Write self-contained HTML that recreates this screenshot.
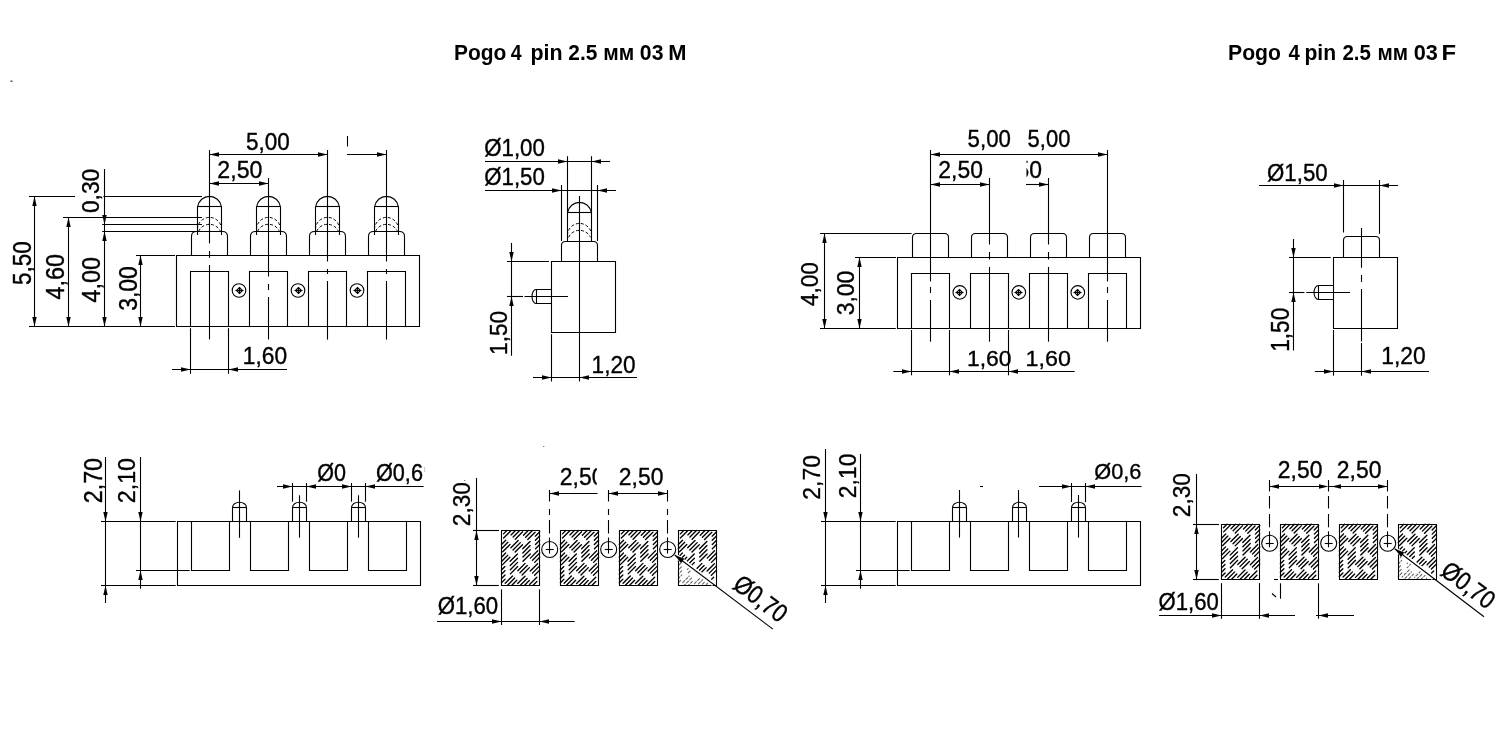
<!DOCTYPE html>
<html><head><meta charset="utf-8"><style>
html,body{margin:0;padding:0;background:#fff;width:1500px;height:750px;overflow:hidden}
svg{display:block}
line,path,circle{fill:none;stroke:#000;stroke-width:1.1;stroke-linecap:butt}
path.a{fill:#000;stroke:none}
path.d{stroke-dasharray:3 2;stroke-width:1;stroke:#000}
path.h{stroke-width:1.35;stroke-linecap:round}
text{font-family:"Liberation Sans",sans-serif;fill:#000;stroke:#000;stroke-width:0}
text.t{font-size:100px}
text.b{font-size:100px;font-weight:bold}
</style></head><body>
<svg width="1500" height="750" viewBox="0 0 1500 750">
<rect width="1500" height="750" fill="#fff" stroke="none"/>
<g style="will-change:transform">
<text class="b" transform="translate(453.9 59.6) scale(0.20969 0.22384)">Pogo</text>
<text class="b" transform="translate(510.71 59.6) scale(0.19590 0.22384)">4</text>
<text class="b" transform="translate(530.49 59.6) scale(0.21429 0.22384)">pin</text>
<text class="b" transform="translate(568.37 59.6) scale(0.20874 0.22384)">2.5</text>
<text class="b" transform="translate(603.13 59.6) scale(0.20970 0.22384)">мм</text>
<text class="b" transform="translate(639.85 59.6) scale(0.21236 0.22384)">03</text>
<text class="b" transform="translate(668.13 59.6) scale(0.21888 0.22384)">M</text>
<text class="b" transform="translate(1227.98 59.6) scale(0.21220 0.22384)">Pogo</text>
<text class="b" transform="translate(1288.59 59.6) scale(0.20336 0.22384)">4</text>
<text class="b" transform="translate(1304.4 59.6) scale(0.21137 0.22384)">pin</text>
<text class="b" transform="translate(1342.38 59.6) scale(0.20497 0.22384)">2.5</text>
<text class="b" transform="translate(1377.55 59.6) scale(0.20672 0.22384)">мм</text>
<text class="b" transform="translate(1413.63 59.6) scale(0.21718 0.22384)">03</text>
<text class="b" transform="translate(1441.5 59.6) scale(0.23866 0.22384)">F</text>
<rect x="10.5" y="80.5" width="2" height="1.5" fill="#555" stroke="none"/>
<path d="M197.65 206.5A12 12 0 0 1 221.35 206.5"/>
<line x1="197.5" y1="206.5" x2="221.5" y2="206.5"/>
<line x1="197.5" y1="206.3" x2="197.5" y2="235"/>
<line x1="221.5" y1="206.3" x2="221.5" y2="235"/>
<path d="M197.5 229.4A12 12 0 0 1 221.5 229.4" class="d"/>
<path d="M198.6 231.3A12 12 0 0 1 220.4 231.3" class="d"/>
<path d="M191.5 255.5L191.5 236.5Q191.5 231.5 196.5 231.5L222.5 231.5Q227.5 231.5 227.5 236.5L227.5 255.5"/>
<path d="M256.65 206.5A12 12 0 0 1 280.35 206.5"/>
<line x1="256.5" y1="206.5" x2="280.5" y2="206.5"/>
<line x1="256.5" y1="206.3" x2="256.5" y2="235"/>
<line x1="280.5" y1="206.3" x2="280.5" y2="235"/>
<path d="M256.5 229.4A12 12 0 0 1 280.5 229.4" class="d"/>
<path d="M257.6 231.3A12 12 0 0 1 279.4 231.3" class="d"/>
<path d="M250.5 255.5L250.5 236.5Q250.5 231.5 255.5 231.5L281.5 231.5Q286.5 231.5 286.5 236.5L286.5 255.5"/>
<path d="M315.65 206.5A12 12 0 0 1 339.35 206.5"/>
<line x1="315.5" y1="206.5" x2="339.5" y2="206.5"/>
<line x1="315.5" y1="206.3" x2="315.5" y2="235"/>
<line x1="339.5" y1="206.3" x2="339.5" y2="235"/>
<path d="M315.5 229.4A12 12 0 0 1 339.5 229.4" class="d"/>
<path d="M316.6 231.3A12 12 0 0 1 338.4 231.3" class="d"/>
<path d="M309.5 255.5L309.5 236.5Q309.5 231.5 314.5 231.5L340.5 231.5Q345.5 231.5 345.5 236.5L345.5 255.5"/>
<path d="M374.65 206.5A12 12 0 0 1 398.35 206.5"/>
<line x1="374.5" y1="206.5" x2="398.5" y2="206.5"/>
<line x1="374.5" y1="206.3" x2="374.5" y2="235"/>
<line x1="398.5" y1="206.3" x2="398.5" y2="235"/>
<path d="M374.5 229.4A12 12 0 0 1 398.5 229.4" class="d"/>
<path d="M375.6 231.3A12 12 0 0 1 397.4 231.3" class="d"/>
<path d="M368.5 255.5L368.5 236.5Q368.5 231.5 373.5 231.5L399.5 231.5Q404.5 231.5 404.5 236.5L404.5 255.5"/>
<path d="M176.5 255.5H419.5V326.5H176.5Z"/>
<path d="M190.5 326.5V271.5H228.5V326.5"/>
<path d="M249.5 326.5V271.5H287.5V326.5"/>
<path d="M308.5 326.5V271.5H346.5V326.5"/>
<path d="M367.5 326.5V271.5H405.5V326.5"/>
<circle cx="239" cy="290.5" r="6.8"/>
<line x1="235.5" y1="290.5" x2="243.5" y2="290.5" stroke-width="0.9"/>
<line x1="239.5" y1="287.1" x2="239.5" y2="293.9" stroke-width="0.9"/>
<path d="M236.5 290.5L239.5 287.5L242.5 290.5L239.5 293.5Z" stroke-width="0.6"/>
<circle cx="298" cy="290.5" r="6.8"/>
<line x1="294.5" y1="290.5" x2="302.5" y2="290.5" stroke-width="0.9"/>
<line x1="298.5" y1="287.1" x2="298.5" y2="293.9" stroke-width="0.9"/>
<path d="M295.5 290.5L298.5 287.5L301.5 290.5L298.5 293.5Z" stroke-width="0.6"/>
<circle cx="357" cy="290.5" r="6.8"/>
<line x1="353.5" y1="290.5" x2="361.5" y2="290.5" stroke-width="0.9"/>
<line x1="357.5" y1="287.1" x2="357.5" y2="293.9" stroke-width="0.9"/>
<path d="M354.5 290.5L357.5 287.5L360.5 290.5L357.5 293.5Z" stroke-width="0.6"/>
<line x1="209.5" y1="150" x2="209.5" y2="243.5"/>
<line x1="209.5" y1="251" x2="209.5" y2="257.8"/>
<line x1="209.5" y1="265" x2="209.5" y2="339.5"/>
<line x1="268.5" y1="178" x2="268.5" y2="276.5"/>
<line x1="268.5" y1="284" x2="268.5" y2="290"/>
<line x1="268.5" y1="297" x2="268.5" y2="339.5"/>
<line x1="327.5" y1="150" x2="327.5" y2="261.5"/>
<line x1="327.5" y1="269" x2="327.5" y2="274"/>
<line x1="327.5" y1="281" x2="327.5" y2="339.6"/>
<line x1="386.5" y1="150" x2="386.5" y2="261.5"/>
<line x1="386.5" y1="269" x2="386.5" y2="274"/>
<line x1="386.5" y1="281" x2="386.5" y2="339.6"/>
<line x1="209.5" y1="154.5" x2="327.5" y2="154.5"/>
<path class="a" d="M209.5 154.5L219 152.3L219 156.7Z"/>
<path class="a" d="M327.5 154.5L318 156.7L318 152.3Z"/>
<line x1="347" y1="154.5" x2="386.5" y2="154.5"/>
<path class="a" d="M386.5 154.5L377 156.7L377 152.3Z"/>
<line x1="347.5" y1="136" x2="347.5" y2="146.5" stroke-width="0.9"/>
<text class="t" style="stroke-width:1.556px" transform="translate(246.1 150) scale(0.22496 0.24355)">5,00</text>
<line x1="209.5" y1="183.5" x2="268.5" y2="183.5"/>
<path class="a" d="M209.5 183.5L219 181.3L219 185.7Z"/>
<path class="a" d="M268.5 183.5L259 185.7L259 181.3Z"/>
<text class="t" style="stroke-width:1.512px" transform="translate(217.34 177.8) scale(0.23156 0.24069)">2,50</text>
<line x1="29" y1="196.5" x2="75" y2="196.5"/>
<line x1="103.4" y1="196.5" x2="202" y2="196.5"/>
<line x1="63" y1="217.5" x2="202" y2="217.5"/>
<line x1="102.2" y1="224.5" x2="202" y2="224.5"/>
<line x1="102.2" y1="231.5" x2="197" y2="231.5"/>
<line x1="136" y1="255.5" x2="175" y2="255.5"/>
<line x1="29" y1="326.5" x2="175" y2="326.5"/>
<line x1="34.5" y1="196.2" x2="34.5" y2="326.5"/>
<path class="a" d="M34.5 196.5L36.7 206L32.3 206Z"/>
<path class="a" d="M34.5 326.5L32.3 317L36.7 317Z"/>
<line x1="68.5" y1="217.5" x2="68.5" y2="326.5"/>
<path class="a" d="M68.5 217.5L70.7 227L66.3 227Z"/>
<path class="a" d="M68.5 326.5L66.3 317L70.7 317Z"/>
<line x1="104.5" y1="169" x2="104.5" y2="326.5"/>
<path class="a" d="M104.5 224.5L102.3 215L106.7 215Z"/>
<path class="a" d="M104.5 231.5L106.7 241L102.3 241Z"/>
<path class="a" d="M104.5 326.5L102.3 317L106.7 317Z"/>
<line x1="140.5" y1="255.5" x2="140.5" y2="326.5"/>
<path class="a" d="M140.5 255.5L142.7 265L138.3 265Z"/>
<path class="a" d="M140.5 326.5L138.3 317L142.7 317Z"/>
<text class="t" style="stroke-width:1.556px" transform="translate(31 284.9) rotate(-90) scale(0.22496 0.25788)">5,50</text>
<text class="t" style="stroke-width:1.499px" transform="translate(64 299.54) rotate(-90) scale(0.23355 0.25788)">4,60</text>
<text class="t" style="stroke-width:1.499px" transform="translate(100 302.54) rotate(-90) scale(0.23355 0.25788)">4,00</text>
<text class="t" style="stroke-width:1.521px" transform="translate(137 310.87) rotate(-90) scale(0.23007 0.25788)">3,00</text>
<text class="t" style="stroke-width:1.535px" transform="translate(99.2 213.09) rotate(-90) scale(0.22805 0.24069)">0,30</text>
<line x1="190.5" y1="328.2" x2="190.5" y2="373.8"/>
<line x1="228.5" y1="328.2" x2="228.5" y2="373.8"/>
<line x1="172" y1="369.5" x2="287" y2="369.5"/>
<path class="a" d="M190.5 369.5L181 371.7L181 367.3Z"/>
<path class="a" d="M228.5 369.5L238 367.3L238 371.7Z"/>
<text class="t" style="stroke-width:1.537px" transform="translate(242.77 363.8) scale(0.22774 0.24069)">1,60</text>
<line x1="579.5" y1="196" x2="579.5" y2="381.5"/>
<path d="M567.65 212.5A12 12 0 0 1 591.35 212.5"/>
<line x1="567.5" y1="212.5" x2="591.5" y2="212.5"/>
<line x1="567.5" y1="156.2" x2="567.5" y2="241"/>
<line x1="591.5" y1="156.2" x2="591.5" y2="241"/>
<line x1="561.5" y1="185" x2="561.5" y2="241"/>
<line x1="597.5" y1="185" x2="597.5" y2="241"/>
<path d="M567.5 235.4A12 12 0 0 1 591.5 235.4" class="d"/>
<path d="M568.6 237.3A12 12 0 0 1 590.4 237.3" class="d"/>
<path d="M561.5 261.5L561.5 245.5Q561.5 241.5 565.5 241.5L593.5 241.5Q597.5 241.5 597.5 245.5L597.5 261.5"/>
<path d="M551.5 261.5H615.5V332.5H551.5Z"/>
<path d="M551.5 289.5H536A4 7 0 0 0 536 303.5H551.5"/>
<line x1="536.5" y1="289.5" x2="536.5" y2="303.5"/>
<line x1="507" y1="296.5" x2="523" y2="296.5"/>
<line x1="524.5" y1="296.5" x2="568" y2="296.5"/>
<line x1="507" y1="261.5" x2="549" y2="261.5"/>
<line x1="511.5" y1="243" x2="511.5" y2="355.8"/>
<path class="a" d="M511.5 261.5L509.3 252L513.7 252Z"/>
<path class="a" d="M511.5 296.5L513.7 306L509.3 306Z"/>
<text class="t" style="stroke-width:1.548px" transform="translate(507.2 354.92) rotate(-90) scale(0.22611 0.24355)">1,50</text>
<line x1="485" y1="161.5" x2="610" y2="161.5"/>
<path class="a" d="M567.5 161.5L558 163.7L558 159.3Z"/>
<path class="a" d="M591.5 161.5L601 159.3L601 163.7Z"/>
<text class="t" style="stroke-width:1.572px" transform="translate(484.22 156) scale(0.22264 0.24355)">Ø1,00</text>
<line x1="485" y1="190.5" x2="616" y2="190.5"/>
<path class="a" d="M561.5 190.5L552 192.7L552 188.3Z"/>
<path class="a" d="M597.5 190.5L607 188.3L607 192.7Z"/>
<text class="t" style="stroke-width:1.572px" transform="translate(484.22 185) scale(0.22264 0.24355)">Ø1,50</text>
<line x1="551.5" y1="334.2" x2="551.5" y2="381.5"/>
<line x1="533" y1="377.5" x2="637" y2="377.5"/>
<path class="a" d="M551.5 377.5L542 379.7L542 375.3Z"/>
<path class="a" d="M579.5 377.5L589 375.3L589 379.7Z"/>
<text class="t" style="stroke-width:1.548px" transform="translate(591.58 373) scale(0.22611 0.23496)">1,20</text>
<path d="M912.5 257.5L912.5 237.5Q912.5 233.5 916.5 233.5L944.5 233.5Q948.5 233.5 948.5 237.5L948.5 257.5"/>
<path d="M971.5 257.5L971.5 237.5Q971.5 233.5 975.5 233.5L1003.5 233.5Q1007.5 233.5 1007.5 237.5L1007.5 257.5"/>
<path d="M1030.5 257.5L1030.5 237.5Q1030.5 233.5 1034.5 233.5L1062.5 233.5Q1066.5 233.5 1066.5 237.5L1066.5 257.5"/>
<path d="M1089.5 257.5L1089.5 237.5Q1089.5 233.5 1093.5 233.5L1121.5 233.5Q1125.5 233.5 1125.5 237.5L1125.5 257.5"/>
<path d="M897.5 257.5H1140.5V328.5H897.5Z"/>
<path d="M911.5 328.5V273.5H949.5V328.5"/>
<path d="M970.5 328.5V273.5H1008.5V328.5"/>
<path d="M1029.5 328.5V273.5H1067.5V328.5"/>
<path d="M1088.5 328.5V273.5H1126.5V328.5"/>
<circle cx="959.8" cy="292.4" r="6.8"/>
<line x1="955.5" y1="292.5" x2="963.5" y2="292.5" stroke-width="0.9"/>
<line x1="959.5" y1="289.1" x2="959.5" y2="295.9" stroke-width="0.9"/>
<path d="M956.5 292.5L959.5 289.5L962.5 292.5L959.5 295.5Z" stroke-width="0.6"/>
<circle cx="1018.8" cy="292.4" r="6.8"/>
<line x1="1014.5" y1="292.5" x2="1022.5" y2="292.5" stroke-width="0.9"/>
<line x1="1018.5" y1="289.1" x2="1018.5" y2="295.9" stroke-width="0.9"/>
<path d="M1015.5 292.5L1018.5 289.5L1021.5 292.5L1018.5 295.5Z" stroke-width="0.6"/>
<circle cx="1077.8" cy="292.4" r="6.8"/>
<line x1="1073.5" y1="292.5" x2="1081.5" y2="292.5" stroke-width="0.9"/>
<line x1="1077.5" y1="289.1" x2="1077.5" y2="295.9" stroke-width="0.9"/>
<path d="M1074.5 292.5L1077.5 289.5L1080.5 292.5L1077.5 295.5Z" stroke-width="0.6"/>
<line x1="930.5" y1="150" x2="930.5" y2="281.5"/>
<line x1="930.5" y1="287" x2="930.5" y2="293"/>
<line x1="930.5" y1="300" x2="930.5" y2="341.7"/>
<line x1="989.5" y1="178" x2="989.5" y2="244.5"/>
<line x1="989.5" y1="252" x2="989.5" y2="259.5"/>
<line x1="989.5" y1="267" x2="989.5" y2="341.7"/>
<line x1="1048.5" y1="178" x2="1048.5" y2="244.5"/>
<line x1="1048.5" y1="252" x2="1048.5" y2="259.5"/>
<line x1="1048.5" y1="267" x2="1048.5" y2="341.7"/>
<line x1="1107.5" y1="150" x2="1107.5" y2="281.5"/>
<line x1="1107.5" y1="287" x2="1107.5" y2="293"/>
<line x1="1107.5" y1="300" x2="1107.5" y2="341.7"/>
<line x1="930.5" y1="154.5" x2="1107.5" y2="154.5"/>
<path class="a" d="M930.5 154.5L940 152.3L940 156.7Z"/>
<path class="a" d="M1107.5 154.5L1098 156.7L1098 152.3Z"/>
<text class="t" style="stroke-width:1.575px" transform="translate(967.61 147) scale(0.22228 0.24355)">5,00</text>
<text class="t" style="stroke-width:1.594px" transform="translate(1027.62 147) scale(0.21960 0.24355)">5,00</text>
<line x1="930.5" y1="184.5" x2="989.5" y2="184.5"/>
<path class="a" d="M930.5 184.5L940 182.3L940 186.7Z"/>
<path class="a" d="M989.5 184.5L980 186.7L980 182.3Z"/>
<text class="t" style="stroke-width:1.529px" transform="translate(938.36 177.8) scale(0.22886 0.24069)">2,50</text>
<line x1="1026" y1="184.5" x2="1048.5" y2="184.5"/>
<path class="a" d="M1048.5 184.5L1039 186.7L1039 182.3Z"/>
<clipPath id="c1"><rect x="1026.5" y="150" width="30" height="40"/></clipPath>
<g clip-path="url(#c1)">
<text class="t" style="stroke-width:1.529px" transform="translate(997.36 177.8) scale(0.22886 0.24069)">2,50</text>
</g>
<line x1="820" y1="233.5" x2="911.5" y2="233.5"/>
<line x1="855" y1="257.5" x2="896" y2="257.5"/>
<line x1="820" y1="328.5" x2="895.8" y2="328.5"/>
<line x1="824.5" y1="233.3" x2="824.5" y2="328.4"/>
<path class="a" d="M824.5 233.5L826.7 243L822.3 243Z"/>
<path class="a" d="M824.5 328.5L822.3 319L826.7 319Z"/>
<line x1="859.5" y1="257.5" x2="859.5" y2="328.4"/>
<path class="a" d="M859.5 257.5L861.7 267L857.3 267Z"/>
<path class="a" d="M859.5 328.5L857.3 319L861.7 319Z"/>
<text class="t" style="stroke-width:1.552px" transform="translate(818 306.02) rotate(-90) scale(0.22558 0.23639)">4,00</text>
<text class="t" style="stroke-width:1.521px" transform="translate(854 315.37) rotate(-90) scale(0.23007 0.23639)">3,00</text>
<line x1="911.5" y1="330" x2="911.5" y2="375.3"/>
<line x1="949.5" y1="330" x2="949.5" y2="375.3"/>
<line x1="1008.5" y1="330" x2="1008.5" y2="375.3"/>
<line x1="893.3" y1="371.5" x2="1074.7" y2="371.5"/>
<path class="a" d="M911.5 371.5L902 373.7L902 369.3Z"/>
<path class="a" d="M949.5 371.5L959 369.3L959 373.7Z"/>
<path class="a" d="M1008.5 371.5L1018 369.3L1018 373.7Z"/>
<text class="t" style="stroke-width:1.526px" transform="translate(966.96 365.7) scale(0.22938 0.22923)">1,60</text>
<text class="t" style="stroke-width:1.501px" transform="translate(1025.53 365.7) scale(0.23321 0.22923)">1,60</text>
<line x1="1361.5" y1="228" x2="1361.5" y2="267.8"/>
<line x1="1361.5" y1="275" x2="1361.5" y2="282"/>
<line x1="1361.5" y1="289" x2="1361.5" y2="341.5"/>
<line x1="1361.5" y1="343" x2="1361.5" y2="375.7"/>
<line x1="1343.5" y1="180" x2="1343.5" y2="232.5"/>
<line x1="1379.5" y1="180" x2="1379.5" y2="233.8"/>
<path d="M1343.5 257.5L1343.5 240.5Q1343.5 236.5 1347.5 236.5L1375.5 236.5Q1379.5 236.5 1379.5 240.5L1379.5 257.5"/>
<path d="M1333.5 257.5H1397.5V328.5H1333.5Z"/>
<path d="M1333.5 285.5H1318.5A4.5 7 0 0 0 1318.5 299.5H1333.5"/>
<line x1="1318.5" y1="285.5" x2="1318.5" y2="299.5"/>
<line x1="1289" y1="292.5" x2="1304.5" y2="292.5"/>
<line x1="1306.2" y1="292.5" x2="1350" y2="292.5"/>
<line x1="1289" y1="257.5" x2="1330.8" y2="257.5"/>
<line x1="1293.5" y1="239" x2="1293.5" y2="350.5"/>
<path class="a" d="M1293.5 257.5L1291.3 248L1295.7 248Z"/>
<path class="a" d="M1293.5 292.5L1295.7 302L1291.3 302Z"/>
<text class="t" style="stroke-width:1.548px" transform="translate(1289.4 351.72) rotate(-90) scale(0.22611 0.24928)">1,50</text>
<line x1="1259" y1="185.5" x2="1398" y2="185.5"/>
<path class="a" d="M1343.5 185.5L1334 187.7L1334 183.3Z"/>
<path class="a" d="M1379.5 185.5L1389 183.3L1389 187.7Z"/>
<text class="t" style="stroke-width:1.572px" transform="translate(1267.02 180.8) scale(0.22264 0.24069)">Ø1,50</text>
<line x1="1333.5" y1="330" x2="1333.5" y2="375.7"/>
<line x1="1314.9" y1="371.5" x2="1429" y2="371.5"/>
<path class="a" d="M1333.5 371.5L1324 373.7L1324 369.3Z"/>
<path class="a" d="M1361.5 371.5L1371 369.3L1371 373.7Z"/>
<text class="t" style="stroke-width:1.529px" transform="translate(1381.16 363.9) scale(0.22884 0.23639)">1,20</text>
<path d="M177.5 521.5H420.5V585.5H177.5Z"/>
<path d="M191.5 521.5V570.5H229.5V521.5"/>
<path d="M250.5 521.5V570.5H288.5V521.5"/>
<path d="M309.5 521.5V570.5H347.5V521.5"/>
<path d="M368.5 521.5V570.5H406.5V521.5"/>
<path d="M232.5 521.5V507.5A7 5.3 0 0 1 246.5 507.5V521.5"/>
<line x1="232.5" y1="507.5" x2="246.5" y2="507.5"/>
<path d="M292.5 521.5V507.5A7 5.3 0 0 1 306.5 507.5V521.5"/>
<line x1="292.4" y1="507.5" x2="306.4" y2="507.5"/>
<path d="M351.5 521.5V507.5A7 5.3 0 0 1 365.5 507.5V521.5"/>
<line x1="351.5" y1="507.5" x2="365.5" y2="507.5"/>
<line x1="101" y1="521.5" x2="175.7" y2="521.5"/>
<line x1="101" y1="585.5" x2="175.7" y2="585.5"/>
<line x1="136" y1="570.5" x2="189.7" y2="570.5"/>
<line x1="105.5" y1="457" x2="105.5" y2="603"/>
<line x1="140.5" y1="457" x2="140.5" y2="588.7"/>
<text class="t" style="stroke-width:1.512px" transform="translate(101.5 503.16) rotate(-90) scale(0.23156 0.25072)">2,70</text>
<text class="t" style="stroke-width:1.512px" transform="translate(135 503.16) rotate(-90) scale(0.23156 0.24355)">2,10</text>
<line x1="239.5" y1="490.4" x2="239.5" y2="537.8"/>
<line x1="299.5" y1="495.3" x2="299.5" y2="537.7"/>
<line x1="358.5" y1="495.3" x2="358.5" y2="537.7"/>
<line x1="292.5" y1="483" x2="292.5" y2="501.7"/>
<line x1="306.5" y1="483" x2="306.5" y2="501.7"/>
<line x1="351.5" y1="483" x2="351.5" y2="501.7"/>
<line x1="365.5" y1="483" x2="365.5" y2="501.7"/>
<line x1="277" y1="486.5" x2="423.6" y2="486.5"/>
<path class="a" d="M292.5 486.5L283 488.7L283 484.3Z"/>
<path class="a" d="M306.5 486.5L316 484.3L316 488.7Z"/>
<path class="a" d="M351.5 486.5L342 488.7L342 484.3Z"/>
<path class="a" d="M365.5 486.5L375 484.3L375 488.7Z"/>
<text class="t" style="stroke-width:1.621px" transform="translate(317.24 481) scale(0.21587 0.24499)">Ø0</text>
<text class="t" style="stroke-width:1.614px" transform="translate(375.94 481) scale(0.21685 0.24499)">Ø0,6</text>
<line x1="424.7" y1="467" x2="424.7" y2="472" style="stroke:#999;stroke-width:0.6px"/>
<path class="a" d="M105.5 521.5L103.3 512L107.7 512Z"/>
<path class="a" d="M105.5 585.5L107.7 595L103.3 595Z"/>
<path class="a" d="M140.5 521.5L138.3 512L142.7 512Z"/>
<path class="a" d="M140.5 570.5L142.7 580L138.3 580Z"/>
<path d="M897.5 521.5H1140.5V585.5H897.5Z"/>
<path d="M911.5 521.5V570.5H949.5V521.5"/>
<path d="M970.5 521.5V570.5H1008.5V521.5"/>
<path d="M1029.5 521.5V570.5H1067.5V521.5"/>
<path d="M1088.5 521.5V570.5H1126.5V521.5"/>
<path d="M952.5 521.5V507.5A7 5.3 0 0 1 966.5 507.5V521.5"/>
<line x1="952.5" y1="507.5" x2="966.5" y2="507.5"/>
<path d="M1012.5 521.5V507.5A7 5.3 0 0 1 1026.5 507.5V521.5"/>
<line x1="1012.4" y1="507.5" x2="1026.4" y2="507.5"/>
<path d="M1071.5 521.5V507.5A7 5.3 0 0 1 1085.5 507.5V521.5"/>
<line x1="1071.5" y1="507.5" x2="1085.5" y2="507.5"/>
<line x1="821" y1="521.5" x2="895.7" y2="521.5"/>
<line x1="821" y1="585.5" x2="895.7" y2="585.5"/>
<line x1="856" y1="570.5" x2="909.7" y2="570.5"/>
<line x1="825.5" y1="449" x2="825.5" y2="603"/>
<line x1="860.5" y1="454" x2="860.5" y2="588.7"/>
<text class="t" style="stroke-width:1.529px" transform="translate(820 499.64) rotate(-90) scale(0.22886 0.24355)">2,70</text>
<text class="t" style="stroke-width:1.529px" transform="translate(856 498.14) rotate(-90) scale(0.22886 0.24355)">2,10</text>
<line x1="959.5" y1="490" x2="959.5" y2="537.6"/>
<line x1="1018.5" y1="490" x2="1018.5" y2="537.6"/>
<line x1="1078.5" y1="495" x2="1078.5" y2="537.6"/>
<line x1="1071.5" y1="483" x2="1071.5" y2="502"/>
<line x1="1085.5" y1="483" x2="1085.5" y2="502"/>
<line x1="1039" y1="486.5" x2="1141.6" y2="486.5"/>
<path class="a" d="M1071.5 486.5L1062 488.7L1062 484.3Z"/>
<path class="a" d="M1085.5 486.5L1095 484.3L1095 488.7Z"/>
<text class="t" style="stroke-width:1.610px" transform="translate(1094.24 478.6) scale(0.21733 0.22350)">Ø0,6</text>
<line x1="980" y1="486.5" x2="983" y2="486.5"/>
<path class="a" d="M825.5 521.5L823.3 512L827.7 512Z"/>
<path class="a" d="M825.5 585.5L827.7 595L823.3 595Z"/>
<path class="a" d="M860.5 521.5L858.3 512L862.7 512Z"/>
<path class="a" d="M860.5 570.5L862.7 580L858.3 580Z"/>
<path class="h" d="M503.51 533.89L506.90 530.50M503.59 538.07L510.90 530.76M501.50 544.42L505.75 540.17M511.02 534.90L515.42 530.50M501.50 548.68L507.88 542.30M513.15 537.03L519.68 530.50M502.69 551.75L510.01 544.43M515.28 539.16L522.60 531.84M501.50 557.20L505.64 553.06M510.90 547.80L518.22 540.48M523.49 535.21L528.20 530.50M501.50 561.46L507.77 555.19M513.03 549.93L520.35 542.61M525.62 537.34L532.46 530.50M502.58 564.64L509.90 557.32M515.16 552.06L522.48 544.74M527.75 539.47L535.07 532.15M501.50 569.98L504.88 566.60M510.15 561.33L517.47 554.01M522.74 548.74L530.06 541.42M535.33 536.15L539.70 531.78M501.50 574.24L504.96 570.78M510.23 565.51L517.55 558.19M522.82 552.92L530.14 545.60M535.40 540.34L539.70 536.04M501.50 578.50L505.04 574.96M510.31 569.69L517.63 562.37M522.90 557.10L530.22 549.78M535.48 544.52L539.70 540.30M501.50 582.76L505.12 579.14M510.39 573.87L517.71 566.55M522.98 561.28L530.30 553.96M535.56 548.70L539.70 544.56M505.24 583.28L512.56 575.96M517.82 570.70L525.14 563.38M530.41 558.11L537.73 550.79M507.58 585.20L514.69 578.09M519.95 572.83L527.27 565.51M532.54 560.24L539.70 553.08M511.84 585.20L516.82 580.22M522.08 574.96L529.40 567.64M534.67 562.37L539.70 557.34M517.71 583.59L525.03 576.27M530.30 571.00L537.61 563.69M520.36 585.20L527.16 578.40M532.43 573.13L539.70 565.86M524.62 585.20L529.29 580.53M534.56 575.26L539.70 570.12M529.54 584.54L536.86 577.22M533.14 585.20L536.94 581.40"/>
<path d="M501.5 530.5H539.5V585.5H501.5Z"/>
<path class="h" d="M562.41 533.89L565.80 530.50M562.49 538.07L569.80 530.76M560.40 544.42L564.65 540.17M569.92 534.90L574.32 530.50M560.40 548.68L566.78 542.30M572.05 537.03L578.58 530.50M561.59 551.75L568.91 544.43M574.18 539.16L581.50 531.84M560.40 557.20L564.54 553.06M569.80 547.80L577.12 540.48M582.39 535.21L587.10 530.50M560.40 561.46L566.67 555.19M571.93 549.93L579.25 542.61M584.52 537.34L591.36 530.50M561.48 564.64L568.80 557.32M574.06 552.06L581.38 544.74M586.65 539.47L593.97 532.15M560.40 569.98L563.78 566.60M569.05 561.33L576.37 554.01M581.64 548.74L588.96 541.42M594.23 536.15L598.60 531.78M560.40 574.24L563.86 570.78M569.13 565.51L576.45 558.19M581.72 552.92L589.04 545.60M594.30 540.34L598.60 536.04M560.40 578.50L563.94 574.96M569.21 569.69L576.53 562.37M581.80 557.10L589.12 549.78M594.38 544.52L598.60 540.30M560.40 582.76L564.02 579.14M569.29 573.87L576.61 566.55M581.88 561.28L589.20 553.96M594.46 548.70L598.60 544.56M564.14 583.28L571.46 575.96M576.72 570.70L584.04 563.38M589.31 558.11L596.63 550.79M566.48 585.20L573.59 578.09M578.85 572.83L586.17 565.51M591.44 560.24L598.60 553.08M570.74 585.20L575.72 580.22M580.98 574.96L588.30 567.64M593.57 562.37L598.60 557.34M576.61 583.59L583.93 576.27M589.20 571.00L596.51 563.69M579.26 585.20L586.06 578.40M591.33 573.13L598.60 565.86M583.52 585.20L588.19 580.53M593.46 575.26L598.60 570.12M588.44 584.54L595.76 577.22M592.04 585.20L595.84 581.40"/>
<path d="M560.5 530.5H598.5V585.5H560.5Z"/>
<path class="h" d="M621.31 533.89L624.70 530.50M621.39 538.07L628.70 530.76M619.30 544.42L623.55 540.17M628.82 534.90L633.22 530.50M619.30 548.68L625.68 542.30M630.95 537.03L637.48 530.50M620.49 551.75L627.81 544.43M633.08 539.16L640.40 531.84M619.30 557.20L623.44 553.06M628.70 547.80L636.02 540.48M641.29 535.21L646.00 530.50M619.30 561.46L625.57 555.19M630.83 549.93L638.15 542.61M643.42 537.34L650.26 530.50M620.38 564.64L627.70 557.32M632.96 552.06L640.28 544.74M645.55 539.47L652.87 532.15M619.30 569.98L622.68 566.60M627.95 561.33L635.27 554.01M640.54 548.74L647.86 541.42M653.13 536.15L657.50 531.78M619.30 574.24L622.76 570.78M628.03 565.51L635.35 558.19M640.62 552.92L647.94 545.60M653.20 540.34L657.50 536.04M619.30 578.50L622.84 574.96M628.11 569.69L635.43 562.37M640.70 557.10L648.02 549.78M653.28 544.52L657.50 540.30M619.30 582.76L622.92 579.14M628.19 573.87L635.51 566.55M640.78 561.28L648.10 553.96M653.36 548.70L657.50 544.56M623.04 583.28L630.36 575.96M635.62 570.70L642.94 563.38M648.21 558.11L655.53 550.79M625.38 585.20L632.49 578.09M637.75 572.83L645.07 565.51M650.34 560.24L657.50 553.08M629.64 585.20L634.62 580.22M639.88 574.96L647.20 567.64M652.47 562.37L657.50 557.34M635.51 583.59L642.83 576.27M648.10 571.00L655.41 563.69M638.16 585.20L644.96 578.40M650.23 573.13L657.50 565.86M642.42 585.20L647.09 580.53M652.36 575.26L657.50 570.12M647.34 584.54L654.66 577.22M650.94 585.20L654.74 581.40"/>
<path d="M619.5 530.5H657.5V585.5H619.5Z"/>
<path class="h" d="M680.31 533.89L683.70 530.50M680.39 538.07L687.70 530.76M678.30 544.42L682.55 540.17M687.82 534.90L692.22 530.50M678.30 548.68L684.68 542.30M689.95 537.03L696.48 530.50M679.49 551.75L686.81 544.43M692.08 539.16L699.40 531.84M679.87 555.63L682.44 553.06M687.70 547.80L695.02 540.48M700.29 535.21L705.00 530.50M682.43 557.33L684.57 555.19M689.83 549.93L697.15 542.61M702.42 537.34L709.26 530.50M684.83 559.19L686.70 557.32M691.96 552.06L699.28 544.74M704.55 539.47L711.87 532.15M687.24 561.04L694.27 554.01M699.54 548.74L706.86 541.42M712.13 536.15L716.50 531.78M689.61 562.93L694.35 558.19M699.62 552.92L706.94 545.60M712.20 540.34L716.50 536.04M692.13 564.67L694.43 562.37M699.70 557.10L707.02 549.78M712.28 544.52L716.50 540.30M699.78 561.28L707.10 553.96M712.36 548.70L716.50 544.56M696.92 568.40L701.94 563.38M707.21 558.11L714.53 550.79M699.34 570.24L704.07 565.51M709.34 560.24L716.50 553.08M701.75 572.09L706.20 567.64M711.47 562.37L716.50 557.34M707.10 571.00L714.41 563.69M709.23 573.13L716.50 565.86M711.36 575.26L716.50 570.12M711.51 579.37L713.66 577.22"/>
<path class="h" style="stroke:#666;stroke-width:1.1px" d="M678.30 561.46L678.44 561.32M679.38 564.64L680.67 563.35M679.48 568.80L681.39 566.89M678.30 574.24L679.02 573.52M680.32 572.22L681.76 570.78M678.30 578.50L679.86 576.94M681.13 575.67L681.84 574.96M687.40 569.40L688.26 568.54M678.73 582.33L680.62 580.44M688.20 572.86L690.06 571.00M682.76 582.56L684.62 580.70M685.91 579.41L687.78 577.54M688.93 576.39L689.36 575.96M684.38 585.20L685.37 584.21M686.65 582.93L688.50 581.08M689.78 579.80L691.49 578.09M688.64 585.20L689.35 584.49M690.63 583.21L692.48 581.36M694.51 583.59L696.37 581.73M697.67 580.43L699.53 578.57M698.43 583.93L700.42 581.94M701.55 580.81L702.82 579.54M702.41 584.21L704.25 582.37M706.34 584.54L707.63 583.25"/>
<path d="M678.5 530.5H716.5V585.5H678.5Z"/>
<circle cx="549.7" cy="549.5" r="8"/>
<line x1="545.7" y1="549.5" x2="553.7" y2="549.5"/>
<line x1="549.5" y1="537.5" x2="549.5" y2="553.5"/>
<circle cx="608.7" cy="549.5" r="8"/>
<line x1="604.7" y1="549.5" x2="612.7" y2="549.5"/>
<line x1="608.5" y1="537.5" x2="608.5" y2="553.5"/>
<circle cx="667.7" cy="549.5" r="8"/>
<line x1="663.7" y1="549.5" x2="671.7" y2="549.5"/>
<line x1="667.5" y1="537.5" x2="667.5" y2="553.5"/>
<line x1="676.7" y1="556.51" x2="713.46" y2="584.25" style="stroke:#fff;stroke-width:4.5px"/>
<line x1="674.7" y1="555" x2="772.9" y2="629.1" stroke-width="1"/>
<path class="a" d="M674.7 555L684.31 558.87L681.06 563.18Z"/>
<text class="t" style="stroke-width:1.585px" transform="translate(731.38 587.54) rotate(37) scale(0.22075 0.25501)">Ø0,70</text>
<line x1="476.5" y1="478" x2="476.5" y2="585.2"/>
<line x1="473" y1="530.5" x2="499" y2="530.5"/>
<line x1="473" y1="585.5" x2="498.8" y2="585.5"/>
<path class="a" d="M476.5 530.5L478.7 540L474.3 540Z"/>
<path class="a" d="M476.5 585.5L474.3 576L478.7 576Z"/>
<line x1="501.5" y1="589.3" x2="501.5" y2="625"/>
<line x1="539.5" y1="589.3" x2="539.5" y2="625"/>
<text class="t" style="stroke-width:1.575px" transform="translate(437.72 613.6) scale(0.22226 0.23782)">Ø1,60</text>
<path class="h" d="M1223.51 527.69L1226.90 524.30M1223.59 531.87L1230.90 524.56M1221.50 538.22L1225.75 533.97M1231.02 528.70L1235.42 524.30M1221.50 542.48L1227.88 536.10M1233.15 530.83L1239.68 524.30M1222.69 545.55L1230.01 538.23M1235.28 532.96L1242.60 525.64M1221.50 551.00L1225.64 546.86M1230.90 541.60L1238.22 534.28M1243.49 529.01L1248.20 524.30M1221.50 555.26L1227.77 548.99M1233.03 543.73L1240.35 536.41M1245.62 531.14L1252.46 524.30M1222.58 558.44L1229.90 551.12M1235.16 545.86L1242.48 538.54M1247.75 533.27L1255.07 525.95M1221.50 563.78L1224.88 560.40M1230.15 555.13L1237.47 547.81M1242.74 542.54L1250.06 535.22M1255.33 529.95L1259.70 525.58M1221.50 568.04L1224.96 564.58M1230.23 559.31L1237.55 551.99M1242.82 546.72L1250.14 539.40M1255.40 534.14L1259.70 529.84M1221.50 572.30L1225.04 568.76M1230.31 563.49L1237.63 556.17M1242.90 550.90L1250.22 543.58M1255.48 538.32L1259.70 534.10M1221.50 576.56L1225.12 572.94M1230.39 567.67L1237.71 560.35M1242.98 555.08L1250.30 547.76M1255.56 542.50L1259.70 538.36M1225.24 577.08L1232.56 569.76M1237.82 564.50L1245.14 557.18M1250.41 551.91L1257.73 544.59M1227.58 579.00L1234.69 571.89M1239.95 566.63L1247.27 559.31M1252.54 554.04L1259.70 546.88M1231.84 579.00L1236.82 574.02M1242.08 568.76L1249.40 561.44M1254.67 556.17L1259.70 551.14M1237.71 577.39L1245.03 570.07M1250.30 564.80L1257.61 557.49M1240.36 579.00L1247.16 572.20M1252.43 566.93L1259.70 559.66M1244.62 579.00L1249.29 574.33M1254.56 569.06L1259.70 563.92M1249.54 578.34L1256.86 571.02M1253.14 579.00L1256.94 575.20"/>
<path d="M1221.5 524.5H1259.5V579.5H1221.5Z"/>
<path class="h" d="M1282.41 527.69L1285.80 524.30M1282.49 531.87L1289.80 524.56M1280.40 538.22L1284.65 533.97M1289.92 528.70L1294.32 524.30M1280.40 542.48L1286.78 536.10M1292.05 530.83L1298.58 524.30M1281.59 545.55L1288.91 538.23M1294.18 532.96L1301.50 525.64M1280.40 551.00L1284.54 546.86M1289.80 541.60L1297.12 534.28M1302.39 529.01L1307.10 524.30M1280.40 555.26L1286.67 548.99M1291.93 543.73L1299.25 536.41M1304.52 531.14L1311.36 524.30M1281.48 558.44L1288.80 551.12M1294.06 545.86L1301.38 538.54M1306.65 533.27L1313.97 525.95M1280.40 563.78L1283.78 560.40M1289.05 555.13L1296.37 547.81M1301.64 542.54L1308.96 535.22M1314.23 529.95L1318.60 525.58M1280.40 568.04L1283.86 564.58M1289.13 559.31L1296.45 551.99M1301.72 546.72L1309.04 539.40M1314.30 534.14L1318.60 529.84M1280.40 572.30L1283.94 568.76M1289.21 563.49L1296.53 556.17M1301.80 550.90L1309.12 543.58M1314.38 538.32L1318.60 534.10M1280.40 576.56L1284.02 572.94M1289.29 567.67L1296.61 560.35M1301.88 555.08L1309.20 547.76M1314.46 542.50L1318.60 538.36M1284.14 577.08L1291.46 569.76M1296.72 564.50L1304.04 557.18M1309.31 551.91L1316.63 544.59M1286.48 579.00L1293.59 571.89M1298.85 566.63L1306.17 559.31M1311.44 554.04L1318.60 546.88M1290.74 579.00L1295.72 574.02M1300.98 568.76L1308.30 561.44M1313.57 556.17L1318.60 551.14M1296.61 577.39L1303.93 570.07M1309.20 564.80L1316.51 557.49M1299.26 579.00L1306.06 572.20M1311.33 566.93L1318.60 559.66M1303.52 579.00L1308.19 574.33M1313.46 569.06L1318.60 563.92M1308.44 578.34L1315.76 571.02M1312.04 579.00L1315.84 575.20"/>
<path d="M1280.5 524.5H1318.5V579.5H1280.5Z"/>
<path class="h" d="M1341.31 527.69L1344.70 524.30M1341.39 531.87L1348.70 524.56M1339.30 538.22L1343.55 533.97M1348.82 528.70L1353.22 524.30M1339.30 542.48L1345.68 536.10M1350.95 530.83L1357.48 524.30M1340.49 545.55L1347.81 538.23M1353.08 532.96L1360.40 525.64M1339.30 551.00L1343.44 546.86M1348.70 541.60L1356.02 534.28M1361.29 529.01L1366.00 524.30M1339.30 555.26L1345.57 548.99M1350.83 543.73L1358.15 536.41M1363.42 531.14L1370.26 524.30M1340.38 558.44L1347.70 551.12M1352.96 545.86L1360.28 538.54M1365.55 533.27L1372.87 525.95M1339.30 563.78L1342.68 560.40M1347.95 555.13L1355.27 547.81M1360.54 542.54L1367.86 535.22M1373.13 529.95L1377.50 525.58M1339.30 568.04L1342.76 564.58M1348.03 559.31L1355.35 551.99M1360.62 546.72L1367.94 539.40M1373.20 534.14L1377.50 529.84M1339.30 572.30L1342.84 568.76M1348.11 563.49L1355.43 556.17M1360.70 550.90L1368.02 543.58M1373.28 538.32L1377.50 534.10M1339.30 576.56L1342.92 572.94M1348.19 567.67L1355.51 560.35M1360.78 555.08L1368.10 547.76M1373.36 542.50L1377.50 538.36M1343.04 577.08L1350.36 569.76M1355.62 564.50L1362.94 557.18M1368.21 551.91L1375.53 544.59M1345.38 579.00L1352.49 571.89M1357.75 566.63L1365.07 559.31M1370.34 554.04L1377.50 546.88M1349.64 579.00L1354.62 574.02M1359.88 568.76L1367.20 561.44M1372.47 556.17L1377.50 551.14M1355.51 577.39L1362.83 570.07M1368.10 564.80L1375.41 557.49M1358.16 579.00L1364.96 572.20M1370.23 566.93L1377.50 559.66M1362.42 579.00L1367.09 574.33M1372.36 569.06L1377.50 563.92M1367.34 578.34L1374.66 571.02M1370.94 579.00L1374.74 575.20"/>
<path d="M1339.5 524.5H1377.5V579.5H1339.5Z"/>
<path class="h" d="M1400.31 527.69L1403.70 524.30M1400.39 531.87L1407.70 524.56M1398.30 538.22L1402.55 533.97M1407.82 528.70L1412.22 524.30M1398.30 542.48L1404.68 536.10M1409.95 530.83L1416.48 524.30M1399.49 545.55L1406.81 538.23M1412.08 532.96L1419.40 525.64M1400.01 549.29L1402.44 546.86M1407.70 541.60L1415.02 534.28M1420.29 529.01L1425.00 524.30M1402.43 551.13L1404.57 548.99M1409.83 543.73L1417.15 536.41M1422.42 531.14L1429.26 524.30M1404.83 552.99L1406.70 551.12M1411.96 545.86L1419.28 538.54M1424.55 533.27L1431.87 525.95M1407.24 554.84L1414.27 547.81M1419.54 542.54L1426.86 535.22M1432.13 529.95L1436.50 525.58M1409.61 556.73L1414.35 551.99M1419.62 546.72L1426.94 539.40M1432.20 534.14L1436.50 529.84M1412.13 558.47L1414.43 556.17M1419.70 550.90L1427.02 543.58M1432.28 538.32L1436.50 534.10M1419.78 555.08L1427.10 547.76M1432.36 542.50L1436.50 538.36M1416.92 562.20L1421.94 557.18M1427.21 551.91L1434.53 544.59M1419.34 564.04L1424.07 559.31M1429.34 554.04L1436.50 546.88M1421.75 565.89L1426.20 561.44M1431.47 556.17L1436.50 551.14M1427.10 564.80L1434.41 557.49M1429.23 566.93L1436.50 559.66M1431.36 569.06L1436.50 563.92M1431.37 573.31L1433.66 571.02"/>
<path class="h" style="stroke:#666;stroke-width:1.1px" d="M1400.24 557.58L1400.96 556.86M1398.30 563.78L1399.77 562.31M1400.95 561.13L1401.68 560.40M1398.59 567.75L1400.47 565.87M1399.43 571.17L1401.28 569.32M1407.11 563.49L1407.54 563.06M1398.30 576.56L1399.02 575.84M1400.18 574.68L1401.92 572.94M1407.19 567.67L1408.34 566.52M1409.63 565.23L1410.63 564.23M1402.04 577.08L1402.90 576.22M1404.19 574.93L1406.06 573.06M1407.35 571.77L1409.21 569.91M1404.95 578.43L1406.80 576.58M1408.08 575.30L1409.92 573.46M1411.20 572.18L1411.49 571.89M1408.92 578.72L1410.77 576.87M1412.05 575.59L1413.62 574.02M1414.51 577.39L1414.65 577.25M1415.94 575.96L1417.81 574.09M1419.10 572.80L1420.25 571.65M1417.16 579.00L1418.72 577.44M1419.85 576.31L1421.83 574.33M1421.42 579.00L1422.55 577.87M1423.82 576.60L1425.10 575.32M1426.34 578.34L1426.49 578.19"/>
<path d="M1398.5 524.5H1436.5V579.5H1398.5Z"/>
<circle cx="1269.7" cy="543.3" r="8"/>
<line x1="1265.7" y1="543.5" x2="1273.7" y2="543.5"/>
<line x1="1269.5" y1="531.3" x2="1269.5" y2="547.3"/>
<circle cx="1328.7" cy="543.3" r="8"/>
<line x1="1324.7" y1="543.5" x2="1332.7" y2="543.5"/>
<line x1="1328.5" y1="531.3" x2="1328.5" y2="547.3"/>
<circle cx="1387.7" cy="543.3" r="8"/>
<line x1="1383.7" y1="543.5" x2="1391.7" y2="543.5"/>
<line x1="1387.5" y1="531.3" x2="1387.5" y2="547.3"/>
<line x1="1396.69" y1="550.21" x2="1433.38" y2="578.15" style="stroke:#fff;stroke-width:4.5px"/>
<line x1="1394.7" y1="548.7" x2="1484" y2="616.7" stroke-width="1"/>
<path class="a" d="M1394.7 548.7L1404.29 552.61L1401.02 556.91Z"/>
<text class="t" style="stroke-width:1.585px" transform="translate(1439.18 573.94) rotate(37) scale(0.22075 0.25501)">Ø0,70</text>
<line x1="1196.5" y1="474" x2="1196.5" y2="579"/>
<line x1="1193" y1="524.5" x2="1219" y2="524.5"/>
<line x1="1193" y1="579.5" x2="1218.8" y2="579.5"/>
<path class="a" d="M1196.5 524.5L1198.7 534L1194.3 534Z"/>
<path class="a" d="M1196.5 579.5L1194.3 570L1198.7 570Z"/>
<line x1="1221.5" y1="583.1" x2="1221.5" y2="618.8"/>
<line x1="1259.5" y1="583.1" x2="1259.5" y2="618.8"/>
<text class="t" style="stroke-width:1.580px" transform="translate(1158.52 609.6) scale(0.22151 0.23782)">Ø1,60</text>
<text class="t" style="stroke-width:1.548px" transform="translate(470 526.13) rotate(-90) scale(0.22617 0.24355)">2,30</text>
<line x1="549.5" y1="490" x2="549.5" y2="501.5"/>
<line x1="549.5" y1="509" x2="549.5" y2="515"/>
<line x1="549.5" y1="520" x2="549.5" y2="533.5"/>
<line x1="608.5" y1="490" x2="608.5" y2="501.5"/>
<line x1="608.5" y1="509" x2="608.5" y2="515"/>
<line x1="608.5" y1="520" x2="608.5" y2="533.5"/>
<line x1="667.5" y1="490" x2="667.5" y2="501.5"/>
<line x1="667.5" y1="509" x2="667.5" y2="515"/>
<line x1="667.5" y1="520" x2="667.5" y2="533.5"/>
<line x1="549.5" y1="493.5" x2="597.5" y2="493.5"/>
<path class="a" d="M549.5 493.5L559 491.3L559 495.7Z"/>
<line x1="608.5" y1="493.5" x2="667.5" y2="493.5"/>
<path class="a" d="M608.5 493.5L618 491.3L618 495.7Z"/>
<path class="a" d="M667.5 493.5L658 495.7L658 491.3Z"/>
<clipPath id="c2"><rect x="550" y="455" width="46.8" height="40"/></clipPath>
<g clip-path="url(#c2)">
<text class="t" style="stroke-width:1.529px" transform="translate(559.86 484.8) scale(0.22886 0.23352)">2,50</text>
</g>
<text class="t" style="stroke-width:1.529px" transform="translate(618.86 484.8) scale(0.22886 0.23352)">2,50</text>
<line x1="437" y1="621.5" x2="574.7" y2="621.5"/>
<path class="a" d="M501.5 621.5L492 623.7L492 619.3Z"/>
<path class="a" d="M539.5 621.5L549 619.3L549 623.7Z"/>
<line x1="543.5" y1="446.5" x2="544.2" y2="446.5" stroke-width="0.8"/>
<line x1="464.5" y1="480.5" x2="465.2" y2="480.5" stroke-width="0.8"/>
<text class="t" style="stroke-width:1.548px" transform="translate(1190 517.13) rotate(-90) scale(0.22617 0.24355)">2,30</text>
<line x1="1269.5" y1="480" x2="1269.5" y2="491.5"/>
<line x1="1269.5" y1="496" x2="1269.5" y2="508.5"/>
<line x1="1269.5" y1="514" x2="1269.5" y2="527.3"/>
<line x1="1328.5" y1="480" x2="1328.5" y2="491.5"/>
<line x1="1328.5" y1="496" x2="1328.5" y2="508.5"/>
<line x1="1328.5" y1="514" x2="1328.5" y2="527.3"/>
<line x1="1387.5" y1="480" x2="1387.5" y2="491.5"/>
<line x1="1387.5" y1="496" x2="1387.5" y2="508.5"/>
<line x1="1387.5" y1="514" x2="1387.5" y2="527.3"/>
<line x1="1269.5" y1="486.5" x2="1321.5" y2="486.5"/>
<path class="a" d="M1269.5 486.5L1279 484.3L1279 488.7Z"/>
<path class="a" d="M1328.5 486.5L1319 488.7L1319 484.3Z"/>
<line x1="1328.5" y1="486.5" x2="1387.5" y2="486.5"/>
<path class="a" d="M1331.5 486.5L1341 484.3L1341 488.7Z"/>
<path class="a" d="M1387.5 486.5L1378 488.7L1378 484.3Z"/>
<text class="t" style="stroke-width:1.529px" transform="translate(1277.86 477.8) scale(0.22886 0.23352)">2,50</text>
<text class="t" style="stroke-width:1.529px" transform="translate(1336.86 477.8) scale(0.22886 0.23352)">2,50</text>
<line x1="1280.5" y1="583.3" x2="1280.5" y2="598.7"/>
<line x1="1318.5" y1="583.3" x2="1318.5" y2="618.7"/>
<line x1="1159" y1="615.5" x2="1295" y2="615.5"/>
<line x1="1316" y1="615.5" x2="1354" y2="615.5"/>
<path class="a" d="M1221.5 615.5L1212 617.7L1212 613.3Z"/>
<path class="a" d="M1259.5 615.5L1269 613.3L1269 617.7Z"/>
<path class="a" d="M1318.5 615.5L1328 613.3L1328 617.7Z"/>
<line x1="1274" y1="579.5" x2="1278" y2="579.5"/>
<line x1="1272" y1="593.5" x2="1276" y2="597" stroke-width="0.9"/>
</g>
</svg></body></html>
